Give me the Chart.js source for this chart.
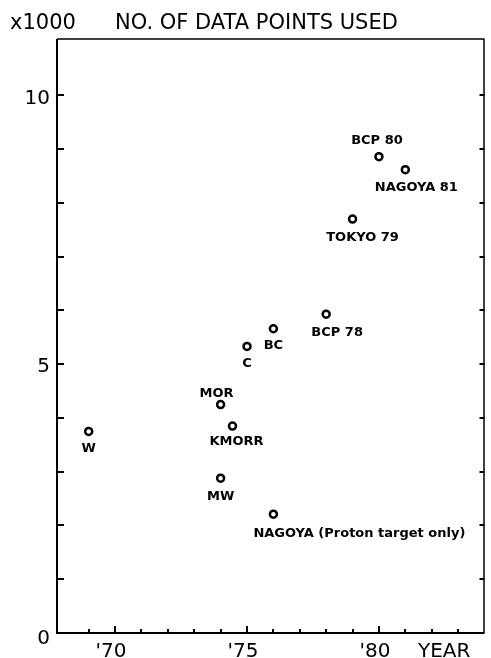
<!DOCTYPE html>
<html>
<head>
<meta charset="utf-8">
<script src="https://cdn.jsdelivr.net/npm/chart.js@4/dist/chart.umd.min.js"></script>
<style>
  html, body { margin: 0; padding: 0; background: #fff; }
  canvas { display: block; }
</style>
</head>
<body>
<canvas id="c" width="491" height="658"></canvas>
<script>
// Analyses and the number of data points each one used
const analyses = ['W', 'MOR', 'KMORR', 'MW', 'NAGOYA (Proton target only)', 'C', 'BC', 'BCP 78', 'TOKYO 79', 'BCP 80', 'NAGOYA 81'];
const years    = [1969, 1974, 1974.45, 1974, 1976, 1975, 1976, 1978, 1979, 1980, 1981];
const dataPoints = [3750, 4250, 3850, 2880, 2210, 5330, 5660, 5930, 7700, 8860, 8620];

const yTickValues = [0, 5000, 10000];
const yTickLabels = ['0', '5', '10'];
const xTickValues = [1970, 1975, 1980];
const xTickLabels = ["'70", "'75", "'80"];

// where each point's name sits relative to its circle (dx, dy, alignment)
const labelPlacement = {
  'W': [0, 17, 'center'],
  'MOR': [-4, -11, 'center'],
  'KMORR': [4, 16, 'center'],
  'MW': [0, 18, 'center'],
  'NAGOYA (Proton target only)': [-20, 19, 'left'],
  'C': [0, 17, 'center'],
  'BC': [0, 17, 'center'],
  'BCP 78': [11, 18, 'center'],
  'TOKYO 79': [10, 19, 'center'],
  'BCP 80': [-2, -16, 'center'],
  'NAGOYA 81': [11, 18, 'center']
};

const FONT = '"DejaVu Sans", sans-serif';

const framePlugin = {
  id: 'frame',
  beforeDatasetsDraw(chart) {
    const ctx = chart.ctx;
    const a = chart.chartArea;
    const xs = chart.scales.x, ys = chart.scales.y;
    ctx.save();
    ctx.strokeStyle = '#000';
    ctx.fillStyle = '#000';
    ctx.lineWidth = 2;
    ctx.lineCap = 'butt';

    // frame
    ctx.beginPath();
    ctx.moveTo(a.left, a.top); ctx.lineTo(a.left, a.bottom); ctx.lineTo(a.right, a.bottom);
    ctx.stroke();
    ctx.lineWidth = 1.5;
    ctx.beginPath();
    ctx.moveTo(a.left, a.top); ctx.lineTo(a.right, a.top);
    ctx.moveTo(a.right - 0.5, a.top); ctx.lineTo(a.right - 0.5, a.bottom);
    ctx.stroke();

    // y ticks every thousand, pointing inward on both sides
    ctx.lineWidth = 2;
    for (let v = 1000; v <= 10000; v += 1000) {
      const py = Math.round(ys.getPixelForValue(v));
      ctx.beginPath();
      ctx.moveTo(a.left, py); ctx.lineTo(a.left + 7, py);
      ctx.moveTo(a.right, py); ctx.lineTo(a.right - 5, py);
      ctx.stroke();
    }
    // x ticks every year, longer at the labelled years
    for (let yr = 1969; yr <= 1983; yr++) {
      const px = Math.round(xs.getPixelForValue(yr));
      const len = (yr % 5 === 0) ? 7 : 4;
      ctx.beginPath();
      ctx.moveTo(px, a.bottom); ctx.lineTo(px, a.bottom - len);
      ctx.stroke();
    }

    // tick labels
    ctx.font = '20px ' + FONT;
    ctx.textAlign = 'right';
    ctx.textBaseline = 'middle';
    yTickValues.forEach((v, i) => {
      ctx.fillText(yTickLabels[i], a.left - 7, ys.getPixelForValue(v) + (v === 0 ? 6 : 3));
    });
    ctx.textAlign = 'center';
    ctx.textBaseline = 'alphabetic';
    xTickValues.forEach((v, i) => {
      ctx.fillText(xTickLabels[i], xs.getPixelForValue(v) - 4, 657);
    });
    ctx.textAlign = 'left';
    ctx.fillText('YEAR', 418, 657);

    // heading
    ctx.font = '21px ' + FONT;
    ctx.fillText('x1000', 10, 29);
    ctx.fillText('NO. OF DATA POINTS USED', 115, 29);
    ctx.restore();
  },
  afterDatasetsDraw(chart) {
    const ctx = chart.ctx;
    const meta = chart.getDatasetMeta(0);
    ctx.save();
    ctx.fillStyle = '#000';
    ctx.font = 'bold 13px ' + FONT;
    ctx.textBaseline = 'middle';
    meta.data.forEach((pt, i) => {
      const name = analyses[i];
      const [dx, dy, align] = labelPlacement[name];
      ctx.textAlign = align;
      ctx.fillText(name, pt.x + dx, pt.y + dy);
    });
    ctx.restore();
  }
};

new Chart(document.getElementById('c'), {
  type: 'scatter',
  data: {
    labels: analyses,
    datasets: [{
      data: years.map((yr, i) => ({ x: yr, y: dataPoints[i] })),
      pointStyle: 'circle',
      pointRadius: 3.5,
      borderWidth: 2.5,
      borderColor: '#000',
      backgroundColor: '#fff'
    }]
  },
  options: {
    responsive: false,
    animation: false,
    layout: { padding: { left: 57, top: 39, right: 1, bottom: 25 } },
    plugins: { legend: { display: false }, tooltip: { enabled: false } },
    scales: {
      x: { type: 'linear', display: false, min: 1967.8, max: 1984 },
      y: { type: 'linear', display: false, min: 0, max: 11050 }
    }
  },
  plugins: [framePlugin]
});
</script>
</body>
</html>
